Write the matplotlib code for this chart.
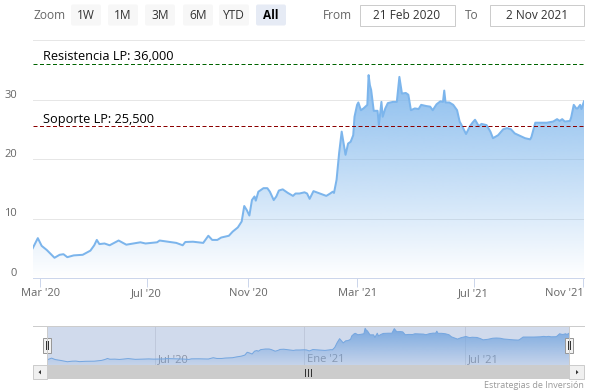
import matplotlib
matplotlib.use("Agg")
import matplotlib.pyplot as plt
import numpy as np
from matplotlib.patches import Rectangle, FancyBboxPatch, Polygon
from matplotlib.transforms import ScaledTranslation
from matplotlib.colors import to_rgb

# ---------------- data ----------------
session = [0, 4, 7, 11, 17, 21, 24, 27, 32, 39, 45, 48, 50, 52, 56, 60, 67, 73, 84, 88,
           97, 99, 112, 117, 119, 125, 133, 137, 140, 144, 147, 153, 156, 160, 163, 165,
           167, 169, 171, 173, 174, 176, 180, 183, 185, 188, 190, 192, 195, 199, 203, 205,
           208, 212, 214, 216, 219, 224, 229, 232, 234, 235, 237, 239, 241, 244, 246, 248,
           250, 251, 253, 254, 256, 258, 261, 262, 263, 264, 266, 269, 270, 272, 273, 275,
           277, 281, 284, 286, 288, 291, 293, 295, 298, 301, 303, 307, 310, 312, 315, 318,
           320, 321, 322, 325, 328, 331, 333, 335, 338, 341, 343, 345, 348, 350, 354, 357,
           359, 363, 367, 370, 373, 376, 380, 384, 388, 389, 392, 396, 401, 406, 409, 411,
           413, 415, 419, 420, 422, 424, 425, 427, 428, 430]
price = [5.0, 6.7, 5.4, 4.7, 3.4, 3.9, 4.0, 3.5, 3.8, 3.9, 4.6, 5.5, 6.4, 5.7, 5.8, 5.5,
         6.3, 5.6, 6.0, 5.8, 6.0, 6.3, 5.9, 5.5, 6.05, 6.1, 5.9, 7.1, 6.4, 6.4, 6.8, 7.1,
         7.8, 8.5, 9.5, 12.1, 11.4, 10.5, 13.1, 13.7, 13.0, 14.5, 15.1, 15.1, 14.5, 13.1,
         13.7, 14.7, 14.9, 14.3, 13.8, 14.2, 14.2, 14.4, 14.2, 13.3, 14.6, 14.2, 13.8, 14.2,
         14.5, 14.3, 16.5, 21.0, 24.6, 20.7, 22.6, 22.9, 24.0, 27.1, 29.1, 29.5, 28.2, 28.5,
         29.1, 34.1, 32.4, 31.6, 28.1, 28.1, 25.7, 29.6, 27.1, 28.5, 29.4, 29.6, 29.6, 33.8,
         31.0, 31.1, 30.8, 28.2, 28.5, 28.4, 29.1, 28.9, 28.8, 28.2, 29.2, 29.7, 29.6, 31.5,
         29.5, 29.5, 29.1, 28.2, 26.3, 25.5, 24.2, 25.5, 26.1, 26.6, 25.5, 25.9, 25.7, 24.6,
         23.5, 24.0, 25.0, 25.2, 25.0, 24.3, 23.9, 23.5, 23.3, 23.7, 26.1, 26.1, 26.1, 26.3,
         26.7, 26.4, 26.7, 26.3, 26.4, 27.0, 29.1, 28.5, 28.5, 29.1, 28.4, 29.7]

tick_sessions = [6, 89, 168, 253, 344, 429]
tick_labels = ["Mar '20", "Jul '20", "Nov '20", "Mar '21", "Jul '21", "Nov '21"]
nav_tick_sessions = [89, 212, 344]
nav_tick_labels = ["Jul '20", "Ene '21", "Jul '21"]
y_ticks = [0, 10, 20, 30, 40]
y_tick_labels = ["0", "10", "20", "30", ""]
resistance = 36.0
support = 25.5
resistance_label = "Resistencia LP: 36,000"
support_label = "Soporte LP: 25,500"
range_buttons = ["1W", "1M", "3M", "6M", "YTD", "All"]
date_from = "21 Feb 2020"
date_to = "2 Nov 2021"
credit = "Estrategias de Inversión"

# ---------------- style ----------------
FONT = ["Open Sans", "DejaVu Sans"]
plt.rcParams["font.family"] = FONT
W, H = 601, 392
SERIES = "#7cb5ec"


def px_rect(x0, y0, x1, y1):
    return [x0 / W, 1 - y1 / H, (x1 - x0) / W, (y1 - y0) / H]


def px(v):  # pixels -> points
    return v * 72 / 100


def gradient_area(ax, x, y, base, top, a_top, a_bot, z):
    poly = ax.fill_between(x, y, base, facecolor="none", edgecolor="none")
    rgb = to_rgb(SERIES)
    grad = np.zeros((256, 1, 4))
    grad[:, 0, :3] = rgb
    grad[:, 0, 3] = np.linspace(a_top, a_bot, 256)
    im = ax.imshow(grad, extent=[x[0], x[-1], base, top], aspect="auto",
                   origin="upper", zorder=z, interpolation="bilinear")
    im.set_clip_path(poly.get_paths()[0], ax.transData)


fig = plt.figure(figsize=(W / 100, H / 100), dpi=100)

# ---------------- main chart ----------------
ax = fig.add_axes(px_rect(32.7, 40, 584, 278))
gradient_area(ax, session, price, 0, max(price), 0.9, 0.0, 1)
ax.plot(session, price, color=SERIES, lw=px(2), solid_joinstyle="round", zorder=3)
ax.set_xlim(0, 430)
ax.set_ylim(0, 40)

ax.set_yticks(y_ticks)
ax.set_yticklabels(y_tick_labels)
ax.grid(axis="y", color="#e6e6e6", lw=px(1), zorder=0)
ax.axhline(y_ticks[-1], color="#e6e6e6", lw=px(1), clip_on=False, zorder=0)
ax.set_axisbelow(True)
ax.tick_params(axis="y", length=0, pad=px(15.5), labelsize=8, labelcolor="#666666")
for lab in ax.get_yticklabels():
    lab.set_va("baseline")
    lab.set_transform(lab.get_transform() + ScaledTranslation(0, 2 / 100, fig.dpi_scale_trans))

ax.set_xticks(tick_sessions)
ax.set_xticklabels(tick_labels)
ax.tick_params(axis="x", length=px(9), width=px(1), color="#ccd6eb", pad=px(9.5),
               labelsize=8, labelcolor="#666666")
for lab in ax.get_xticklabels():
    lab.set_va("baseline")
xl = ax.get_xticklabels()
xl[-1].set_ha("right")
xl[-1].set_transform(xl[-1].get_transform() + ScaledTranslation(1 / 100, 0, fig.dpi_scale_trans))

for s in ["top", "right", "left"]:
    ax.spines[s].set_visible(False)
ax.spines["bottom"].set_color("#ccd6eb")
ax.spines["bottom"].set_linewidth(px(1))

for val, col, txt in [(resistance, "#006400", resistance_label),
                      (support, "#8b0000", support_label)]:
    ax.axhline(val, color=col, lw=px(1), ls=(0, (4, 2.5)), zorder=4)
    ax.annotate(txt, xy=(0, val), xycoords=("axes fraction", "data"),
                xytext=(px(10.6), px(3.5)), textcoords="offset points",
                ha="left", va="baseline", fontsize=9.2, color="#000000", zorder=5)

# ---------------- navigator ----------------
nav = fig.add_axes(px_rect(46.7, 325.7, 569.3, 365))
nav.set_xlim(0, 430)
nav.set_ylim(0.4, 36.5)
for xv in nav_tick_sessions:
    nav.axvline(xv, color="#e6e6e6", lw=px(1), zorder=0)
for xv, lab in zip(nav_tick_sessions, nav_tick_labels):
    nav.annotate(lab, xy=(xv, 0), xycoords=("data", "axes fraction"),
                 xytext=(px(3), px(3.3)), textcoords="offset points",
                 ha="left", va="baseline", fontsize=8, color="#999999", zorder=1)
gradient_area(nav, session, price, 0.4, max(price), 0.95, 0.12, 2)
nav.plot(session, price, color=SERIES, lw=px(1), zorder=3)
nav.set_xlim(0, 430)
nav.set_ylim(0.4, 36.5)
nav.add_patch(Rectangle((0, 0), 1, 1, transform=nav.transAxes,
                        facecolor=(102 / 255, 133 / 255, 194 / 255, 0.3),
                        edgecolor="none", zorder=6))
nav.set_xticks([])
nav.set_yticks([])
for s in nav.spines.values():
    s.set_visible(False)

# ---------------- overlay (range selector, scrollbar, handles) ----------------
ov = fig.add_axes([0, 0, 1, 1])
ov.set_xlim(0, W)
ov.set_ylim(H, 0)
ov.axis("off")

ov.text(33, 15, "Zoom", fontsize=8.6, color="#666666", ha="left", va="center")
btn_x = [71, 108, 145, 183, 219, 256]
for bx, lab in zip(btn_x, range_buttons):
    sel = lab == "All"
    ov.add_patch(FancyBboxPatch((bx, 4.5), 30, 21, boxstyle="round,pad=0,rounding_size=2",
                                facecolor="#e6ebf5" if sel else "#f7f7f7", edgecolor="none"))
    ov.text(bx + 15, 15, lab, fontsize=8.6, ha="center", va="center",
            color="#000000" if sel else "#333333", fontweight="bold" if sel else "normal")

ov.text(323, 15, "From", fontsize=8.6, color="#666666", ha="left", va="center")
ov.add_patch(Rectangle((359.5, 4.5), 95.5, 21, facecolor="white", edgecolor="#cccccc", lw=px(1)))
ov.text(407, 15, date_from, fontsize=8.6, color="#333333", ha="center", va="center")
ov.text(465, 15, "To", fontsize=8.6, color="#666666", ha="left", va="center")
ov.add_patch(Rectangle((490, 4.5), 94, 21, facecolor="white", edgecolor="#cccccc", lw=px(1)))
ov.text(537, 15, date_to, fontsize=8.6, color="#333333", ha="center", va="center")

# navigator outline
ov.plot([32.7, 584], [325.7, 325.7], color="#cccccc", lw=px(1))
ov.plot([46.7, 46.7], [325.7, 365], color="#cccccc", lw=px(1))
ov.plot([569.3, 569.3], [325.7, 365], color="#cccccc", lw=px(1))

# scrollbar
ov.add_patch(Rectangle((32.7, 365), 551.3, 14.3, facecolor="#f2f2f2", edgecolor="none"))
ov.add_patch(Rectangle((46.7, 365), 522.6, 14.3, facecolor="#cccccc", edgecolor="none"))
ov.add_patch(Rectangle((32.7, 365), 14, 14.3, facecolor="#f0f0f0", edgecolor="#cccccc", lw=px(1)))
ov.add_patch(Rectangle((569.3, 365), 14.7, 14.3, facecolor="#f0f0f0", edgecolor="#cccccc", lw=px(1)))
ov.add_patch(Polygon([[38.5, 372.2], [41, 370], [41, 374.4]], closed=True, facecolor="#333333", edgecolor="none"))
ov.add_patch(Polygon([[578.5, 372.2], [576, 370], [576, 374.4]], closed=True, facecolor="#333333", edgecolor="none"))
for gx in [305, 308, 311]:
    ov.plot([gx, gx], [369, 375.5], color="#333333", lw=px(1))

# handles
for hx in [46.7, 569.3]:
    ov.add_patch(Rectangle((hx - 4, 337.5), 8, 15, facecolor="#f2f2f2", edgecolor="#999999", lw=px(1)))
    for dx in [-1, 1]:
        ov.plot([hx + dx, hx + dx], [341, 349], color="#333333", lw=px(1))

ov.text(584, 386, credit, fontsize=6.5, color="#999999", ha="right", va="center")

fig.savefig("out.png", dpi=100)
